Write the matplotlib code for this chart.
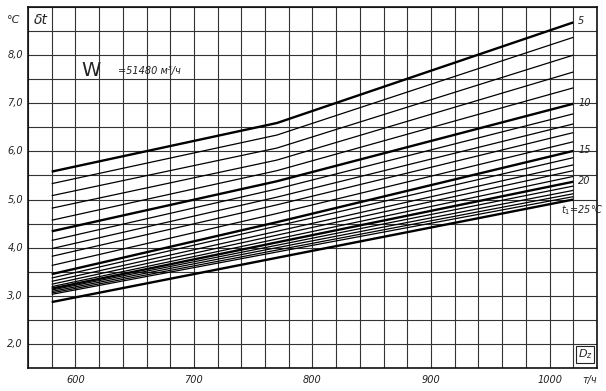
import numpy as np
import matplotlib
matplotlib.use('Agg')
from matplotlib import pyplot as plt

# D_z, т/ч : start, bend, end of every curve
d_points = [580, 770, 1020]

# t1 = 5 ... 25 °C
t1 = list(range(5, 26))

dt_left = [5.58, 5.33, 5.08, 4.82, 4.57, 4.34, 4.15, 3.98, 3.82, 3.63, 3.45,
           3.37, 3.30, 3.24, 3.19, 3.15, 3.12, 3.09, 3.06, 3.03, 2.87]
dt_mid = [6.59, 6.34, 6.07, 5.82, 5.60, 5.38, 5.22, 5.05, 4.89, 4.71, 4.53,
          4.45, 4.34, 4.26, 4.18, 4.11, 4.05, 4.00, 3.95, 3.91, 3.79]
dt_right = [8.68, 8.37, 8.00, 7.65, 7.32, 6.99, 6.78, 6.57, 6.39, 6.20, 6.01,
            5.87, 5.72, 5.60, 5.48, 5.37, 5.28, 5.19, 5.12, 5.06, 5.00]

y_ticks = [2.0, 3.0, 4.0, 5.0, 6.0, 7.0, 8.0]
x_ticks = [600, 700, 800, 900, 1000]

fig = plt.figure(figsize=(6.06, 3.91), dpi=100)
ax = fig.add_axes([28 / 606, 1 - 368 / 391, 569 / 606, 361 / 391])
ax.set_xlim(560, 1040)
ax.set_ylim(1.5, 9.0)

# сетка
ax.set_xticks(x_ticks)
ax.set_xticks(np.arange(560, 1041, 20), minor=True)
ax.set_yticks(y_ticks)
ax.set_yticks(np.arange(1.5, 9.01, 0.5), minor=True)
ax.grid(which='both', color='#333333', lw=0.8)
ax.set_axisbelow(True)
ax.tick_params(which='both', length=0)
ax.set_xticklabels([])
ax.set_yticklabels([])
for s in ax.spines.values():
    s.set_linewidth(1.2)
    s.set_color('#111111')

for i, t in enumerate(t1):
    lw = 1.7 if t % 5 == 0 else 0.9
    ax.plot(d_points, [dt_left[i], dt_mid[i], dt_right[i]], color='black', lw=lw,
            solid_capstyle='butt')

font = dict(style='italic', color='#222222')
for v in y_ticks:
    ax.text(-22 / 606, v, ('%.1f' % v).replace('.', ','), ha='left', va='center',
            fontsize=7, clip_on=False, transform=ax.get_yaxis_transform(), **font)
for v in x_ticks:
    ax.text(v, 1.25, str(v), ha='center', va='center', fontsize=7, clip_on=False, **font)
ax.text(1034, 1.25, 'т/ч', ha='center', va='center', fontsize=7, clip_on=False, **font)
ax.text(-22 / 606, 8.72, '°C', ha='left', va='center', fontsize=8, clip_on=False,
        transform=ax.get_yaxis_transform(), **font)
ax.text(565, 8.72, 'δt', ha='left', va='center', fontsize=10, **font)
ax.text(605, 7.68, 'W', ha='left', va='center', fontsize=14, color='#222222')
ax.text(636, 7.66, '=51480 м³/ч', ha='left', va='center', fontsize=7, **font)

ax.text(1024, 1.78, '$D_z$', ha='left', va='center', fontsize=8, color='#222222',
        bbox=dict(boxstyle='square,pad=0.15', fc='white', ec='#222222', lw=0.8))

labels_right = {5: '5', 10: '10', 15: '15', 20: '20'}
for i, t in enumerate(t1):
    if t in labels_right:
        ax.text(1024, dt_right[i] + 0.02, labels_right[t], ha='left', va='center',
                fontsize=7, **font)
ax.text(1010, dt_right[-1] - 0.22, '$t_1$=25°C', ha='left', va='center',
        fontsize=7, **font)

fig.savefig('out.png', dpi=100)
